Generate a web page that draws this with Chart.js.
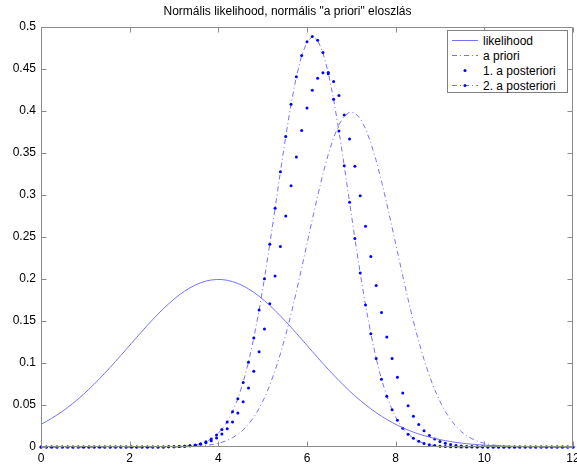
<!DOCTYPE html>
<html>
<head>
<meta charset="utf-8">
<script src="https://cdn.jsdelivr.net/npm/chart.js@4/dist/chart.umd.min.js"></script>
<style>
  html,body{margin:0;padding:0;background:#fff;}
  #wrap{position:relative;width:577px;height:466px;overflow:hidden;}
  #c{position:absolute;left:0;top:0;}
  #legend{position:absolute;left:447px;top:30px;width:121px;height:63px;border:1px solid #808080;background:#fff;
    font-family:"Liberation Sans",Arial,sans-serif;font-size:12px;color:#000;box-sizing:border-box;padding-top:2px;}
  .row{height:15px;display:flex;align-items:center;}
  .row svg{margin-left:4px;margin-right:5px;flex:none;}
</style>
</head>
<body>
<div id="wrap">
<canvas id="c" width="577" height="466"></canvas>
<div id="legend"></div>
</div>
<script>
const chartTitle = 'Normális likelihood, normális "a priori" eloszlás';
const seriesNames = ['likelihood', 'a priori', '1. a posteriori', '2. a posteriori'];

const xs = [0,0.12,0.24,0.36,0.48,0.6,0.72,0.84,0.96,1.08,1.2,1.32,1.44,1.56,1.68,1.8,1.92,2.04,2.16,2.28,
2.4,2.52,2.64,2.76,2.88,3,3.12,3.24,3.36,3.48,3.6,3.72,3.84,3.96,4.08,4.2,4.32,4.44,4.56,4.68,
4.8,4.92,5.04,5.16,5.28,5.4,5.52,5.64,5.76,5.88,6,6.12,6.24,6.36,6.48,6.6,6.72,6.84,6.96,7.08,
7.2,7.32,7.44,7.56,7.68,7.8,7.92,8.04,8.16,8.28,8.4,8.52,8.64,8.76,8.88,9,9.12,9.24,9.36,9.48,
9.6,9.72,9.84,9.96,10.08,10.2,10.32,10.44,10.56,10.68,10.8,10.92,11.04,11.16,11.28,11.4,11.52,11.64,11.76,11.88,12];

const likelihood = [
0.0270,0.0304,0.0341,0.0381,0.0424,0.0470,0.0520,0.0573,0.0628,0.0687,
0.0749,0.0813,0.0879,0.0948,0.1018,0.1089,0.1161,0.1234,0.1306,0.1378,
0.1449,0.1517,0.1583,0.1646,0.1705,0.1760,0.1811,0.1856,0.1895,0.1928,
0.1955,0.1975,0.1988,0.1994,0.1993,0.1985,0.1969,0.1947,0.1918,0.1883,
0.1841,0.1794,0.1742,0.1686,0.1625,0.1561,0.1494,0.1425,0.1354,0.1282,
0.1210,0.1137,0.1065,0.0994,0.0925,0.0857,0.0791,0.0728,0.0667,0.0609,
0.0555,0.0503,0.0454,0.0409,0.0367,0.0328,0.0292,0.0259,0.0229,0.0202,
0.0177,0.0155,0.0135,0.0118,0.0102,0.0088,0.0075,0.0065,0.0055,0.0047,
0.0040,0.0033,0.0028,0.0024,0.0020,0.0016,0.0014,0.0011,0.0009,0.0008,
0.0006,0.0005,0.0004,0.0003,0.0003,0.0002,0.0002,0.0001,0.0001,0.0001,0.0001];

const prior = [
0,0,0,0,0,0,0,0,0,0,
0,0,0,0,0,0,0,0,0,0,
0,0,0,0,0.0001,0.0001,0.0002,0.0003,0.0005,0.0008,
0.0012,0.0018,0.0027,0.0039,0.0056,0.0079,0.0110,0.0151,0.0203,0.0271,
0.0355,0.0459,0.0584,0.0734,0.0909,0.1109,0.1334,0.1582,0.1849,0.2131,
0.2420,0.2709,0.2989,0.3251,0.3485,0.3683,0.3836,0.3939,0.3986,0.3977,
0.3910,0.3790,0.3621,0.3411,0.3166,0.2897,0.2613,0.2323,0.2036,0.1759,
0.1497,0.1257,0.1040,0.0848,0.0682,0.0540,0.0422,0.0325,0.0246,0.0184,
0.0136,0.0099,0.0071,0.0050,0.0035,0.0024,0.0016,0.0011,0.0007,0.0005,
0.0003,0.0002,0.0001,0.0001,0,0,0,0,0,0,0];

const posterior1 = [
0,0,0,0,0,0,0,0,0,0,
0,0,0,0,0,0,0,0,0,0,
0,0,0.0001,0.0001,0.0002,0.0003,0.0005,0.0009,0.0014,0.0022,
0.0033,0.0050,0.0074,0.0108,0.0154,0.0217,0.0299,0.0404,0.0538,0.0702,
0.0901,0.1135,0.1404,0.1706,0.2037,0.2387,0.2749,0.3109,0.3453,0.3767,
0.4036,0.4247,0.4390,0.4456,0.4443,0.4350,0.4184,0.3952,0.3666,0.3341,
0.2990,0.2628,0.2269,0.1924,0.1602,0.1310,0.1053,0.0830,0.0644,0.0490,
0.0366,0.0269,0.0194,0.0137,0.0096,0.0065,0.0044,0.0029,0.0019,0.0012,
0.0007,0.0005,0.0003,0.0002,0.0001,0.0001,0,0,0,0,
0,0,0,0,0,0,0,0,0,0,0];

const posterior2 = [
0,0,0,0,0,0,0,0,0,0,
0,0,0,0,0,0,0,0,0,0,
0,0,0,0.0001,0.0002,0.0003,0.0006,0.0009,0.0016,0.0025,
0.0040,0.0063,0.0096,0.0143,0.0209,0.0299,0.0419,0.0574,0.0769,0.1009,
0.1297,0.1630,0.2004,0.2413,0.2842,0.3276,0.3696,0.4081,0.4409,0.4662,
0.4824,0.4886,0.4842,0.4696,0.4457,0.4140,0.3763,0.3348,0.2915,0.2483,
0.2070,0.1689,0.1349,0.1054,0.0806,0.0603,0.0442,0.0317,0.0222,0.0153,
0.0103,0.0067,0.0043,0.0027,0.0017,0.0010,0.0006,0.0004,0.0002,0.0001,
0.0001,0,0,0,0,0,0,0,0,0,
0,0,0,0,0,0,0,0,0,0,0];

const xTicks = [0,2,4,6,8,10,12];
const xTickLabels = ['0','2','4','6','8','10','12'];
const yTicks = [0,0.05,0.1,0.15,0.2,0.25,0.3,0.35,0.4,0.45,0.5];
const yTickLabels = ['0','0.05','0.1','0.15','0.2','0.25','0.3','0.35','0.4','0.45','0.5'];

const LINE = '#7272ff';
const DOT = '#0000ff';
const DASHDOT = [5,3,1,3];

function pts(arr){ return xs.map((x,i)=>({x:x, y:arr[i]})); }

const boxPlugin = {
  id: 'matlabBox',
  afterDraw(chart){
    const {ctx, chartArea:a, scales} = chart;
    const L = Math.round(a.left)+0.5, R = Math.round(a.right)-0.5, T = Math.round(a.top)+0.5, B = Math.round(a.bottom)-0.5;
    ctx.save();
    ctx.strokeStyle = '#8c8c8c';
    ctx.lineWidth = 1;
    ctx.beginPath();
    ctx.rect(L, T, R-L, B-T);
    scales.x.ticks.forEach(t=>{
      const px = Math.round(scales.x.getPixelForValue(t.value))+0.5;
      ctx.moveTo(px,B); ctx.lineTo(px,B-5);
      ctx.moveTo(px,T); ctx.lineTo(px,T+5);
    });
    scales.y.ticks.forEach(t=>{
      const py = Math.round(scales.y.getPixelForValue(t.value))+0.5;
      ctx.moveTo(L,py); ctx.lineTo(L+5,py);
      ctx.moveTo(R,py); ctx.lineTo(R-5,py);
    });
    ctx.stroke();
    ctx.restore();
  }
};

Chart.defaults.font.family = '"Liberation Sans", Arial, sans-serif';
Chart.defaults.font.size = 12;
Chart.defaults.color = '#000';

const chart = new Chart(document.getElementById('c'), {
  type: 'line',
  data: {
    datasets: [
      {label: seriesNames[0], data: pts(likelihood), borderColor: LINE, borderWidth: 1, pointRadius: 0, clip: false},
      {label: seriesNames[1], data: pts(prior), borderColor: LINE, borderWidth: 1, borderDash: DASHDOT, pointRadius: 0, clip: false},
      {label: seriesNames[2], data: pts(posterior1), showLine: false, pointRadius: 1.5, pointBorderWidth: 0,
        pointBackgroundColor: DOT, borderColor: DOT, clip: false},
      {label: seriesNames[3], data: pts(posterior2), borderColor: LINE, borderWidth: 1, borderDash: DASHDOT,
        pointRadius: 1.5, pointBorderWidth: 0, pointBackgroundColor: DOT, clip: false}
    ]
  },
  options: {
    responsive: false,
    animation: false,
    events: [],
    layout: {padding: {top: 0, right: 2, bottom: 0, left: 0}},
    elements: {line: {tension: 0}},
    plugins: {
      legend: {display: false},
      tooltip: {enabled: false},
      title: {display: true, text: chartTitle, font: {size: 12, weight: 'normal'}, color: '#000',
        padding: {top: 4, bottom: 8.6}}
    },
    scales: {
      x: {
        type: 'linear', min: 0, max: 12,
        afterBuildTicks: s => { s.ticks = xTicks.map(v=>({value:v})); },
        afterFit: s => { s.height = 19; s.paddingLeft = 0; s.paddingRight = 0; },
        ticks: {callback: (v,i) => xTickLabels[i], padding: 4, maxRotation: 0, autoSkip: false, color: '#000'},
        grid: {display: false, drawTicks: false},
        border: {display: false}
      },
      y: {
        type: 'linear', min: 0, max: 0.5,
        afterBuildTicks: s => { s.ticks = yTicks.map(v=>({value:v})); },
        afterFit: s => { s.width = 41; s.paddingTop = 0; s.paddingBottom = 0; },
        ticks: {callback: (v,i) => yTickLabels[i], padding: 5, autoSkip: false, color: '#000'},
        grid: {display: false, drawTicks: false},
        border: {display: false}
      }
    }
  },
  plugins: [boxPlugin]
});

// Legend (MATLAB-style box inside the axes)
const legendEl = document.getElementById('legend');
const samples = [
  '<line x1="0" y1="7.5" x2="26" y2="7.5" stroke="'+LINE+'" stroke-width="1"/>',
  '<line x1="0" y1="7.5" x2="26" y2="7.5" stroke="'+LINE+'" stroke-width="1" stroke-dasharray="'+DASHDOT.join(',')+'"/>',
  '<circle cx="13" cy="7.5" r="1.5" fill="'+DOT+'"/>',
  '<line x1="0" y1="7.5" x2="26" y2="7.5" stroke="'+LINE+'" stroke-width="1" stroke-dasharray="'+DASHDOT.join(',')+'"/><circle cx="13" cy="7.5" r="1.5" fill="'+DOT+'"/>'
];
seriesNames.forEach((name,i)=>{
  const row = document.createElement('div');
  row.className = 'row';
  row.innerHTML = '<svg width="26" height="15" viewBox="0 0 26 15">'+samples[i]+'</svg>';
  const span = document.createElement('span');
  span.textContent = name;
  row.appendChild(span);
  legendEl.appendChild(row);
});
</script>
</body>
</html>
